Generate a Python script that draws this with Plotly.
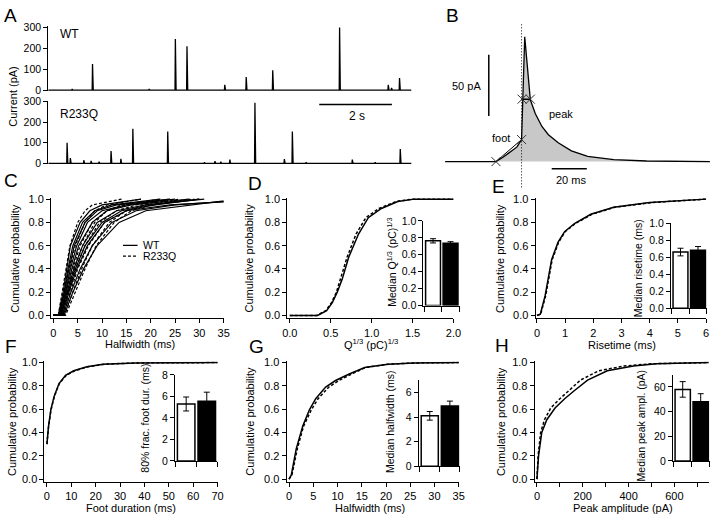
import plotly.graph_objects as go

W, H = 720, 520
FONT = "Liberation Sans, Arial, Helvetica, sans-serif"

# ---------------- data ----------------
# Panel A: amperometric spikes (time in s, amplitude in pA)
wt_spike_t = [0.66, 1.22, 2.78, 3.50, 3.82, 4.86, 5.45, 6.18, 8.02, 9.36, 9.45, 9.67]
wt_spike_a = [5, 125, 5, 245, 210, 25, 62, 95, 300, 25, 10, 58]
ko_spike_t = [0.52, 0.61, 0.98, 1.18, 1.40, 1.73, 2.00, 2.33, 3.29, 4.30, 4.59, 4.75,
              5.00, 5.69, 6.50, 6.72, 7.10, 8.37, 9.00, 9.69]
ko_spike_a = [100, 25, 15, 12, 8, 60, 22, 168, 155, 5, 10, 8, 18, 295, 20, 155, 5, 18, 5, 70]
a_yticks = [0, 100, 200, 300]

# Panel B: single event (time in ms, amplitude in pA)
event_t = [-29, 0, 4, 8, 12, 14.6, 16.4, 19.6, 22.4, 26.2, 29.9, 35.5, 43, 52.3, 67.2, 85.9, 122]
event_amp = [0, 0, 3.5, 7.5, 12, 18, 102, 50.5, 39.3, 28.7, 22, 15.4, 8.8, 4.2, 1.6, 0.5, 0]
foot_t = [0, 14.6]
foot_amp = [0, 18]
half_t = [14.9, 19.6]
half_amp = [51, 51]

# Panel C: per-cell halfwidth cumulative distributions (ms at probability levels)
c_prob = [0, 0, 0.2, 0.4, 0.6, 0.8, 0.9, 0.95, 1.0]
c_wt_curves = [
    [0, 1.0, 2.0, 2.8, 3.5, 5.5, 7.5, 10, 18],
    [0, 1.2, 2.3, 3.2, 4.3, 6.5, 9, 13, 24],
    [0, 1.5, 2.6, 3.8, 5.2, 8.0, 11, 16, 28],
    [0, 1.4, 2.8, 4.2, 6.0, 9.0, 13, 19, 31],
    [0, 1.8, 3.2, 4.8, 7.0, 10.5, 15, 24, 45],
    [0, 1.6, 3.0, 4.5, 6.5, 10.0, 14, 21, 30],
    [0, 2.0, 3.6, 5.5, 8.0, 12.0, 17, 25, 42],
    [0, 1.3, 2.5, 3.5, 4.8, 7.0, 10, 15, 25],
    [0, 1.1, 2.2, 3.0, 4.0, 6.0, 8.5, 12, 22],
    [0, 2.2, 4.0, 6.2, 9.0, 13.5, 19, 28, 38],
]
c_ko_curves = [
    [0, 1.0, 1.8, 2.6, 3.4, 5.0, 6.5, 8, 14],
    [0, 1.5, 2.8, 4.0, 5.5, 8.0, 11, 15, 24],
    [0, 2.5, 4.5, 6.5, 8.8, 12.5, 16, 20, 30],
    [0, 2.3, 4.0, 5.8, 8.0, 11.5, 15, 19, 28],
    [0, 1.8, 3.2, 4.6, 6.5, 9.5, 13, 17, 26],
    [0, 1.6, 3.0, 4.3, 6.0, 8.5, 11, 14, 22],
    [0, 2.0, 3.5, 5.0, 7.2, 10.5, 15, 20, 29],
    [0, 1.2, 2.3, 3.3, 4.5, 6.5, 8.5, 11, 18],
]

# Panel D: Q^(1/3)
d_x_wt = [0, 0.34, 0.45, 0.52, 0.58, 0.64, 0.72, 0.84, 0.96, 1.12, 1.32, 1.52, 2.0]
d_x_ko = [0, 0.33, 0.44, 0.51, 0.57, 0.62, 0.70, 0.81, 0.93, 1.09, 1.30, 1.50, 2.0]
d_prob = [0, 0, 0.04, 0.11, 0.2, 0.31, 0.5, 0.70, 0.84, 0.92, 0.98, 1.0, 1.0]
d_median = [0.765, 0.735]
d_err = [0.025, 0.02]

# Panel E: risetime
e_x_wt = [0, 0.12, 0.29, 0.52, 0.75, 0.98, 1.33, 1.91, 2.72, 4.0, 6.0]
e_x_ko = [0, 0.13, 0.31, 0.54, 0.77, 1.0, 1.36, 1.95, 2.76, 4.05, 6.0]
e_prob = [0, 0.01, 0.17, 0.48, 0.63, 0.72, 0.79, 0.87, 0.93, 0.97, 1.0]
e_median = [0.66, 0.68]
e_err = [0.045, 0.045]

# Panel F: foot duration
f_x_wt = [0, 0.67, 1.6, 2.95, 4.96, 7.64, 11, 16.4, 23, 36.5, 70]
f_x_ko = [0, 0.70, 1.7, 3.05, 5.1, 7.9, 11.4, 16.9, 23.5, 37, 70]
f_prob = [0.30, 0.455, 0.595, 0.71, 0.82, 0.89, 0.93, 0.964, 0.986, 0.997, 1.0]
f_median = [5.3, 5.55]
f_err = [0.65, 0.85]

# Panel G: halfwidth (pooled)
g_x_wt = [0, 0.47, 1.48, 2.83, 4.2, 5.5, 7.55, 9.6, 12.3, 15.6, 20.4, 25.8, 35]
g_x_ko = [0, 0.6, 1.7, 3.0, 4.6, 6.0, 8.2, 10.3, 12.8, 15.8, 20.4, 25.8, 35]
g_prob = [0, 0.036, 0.26, 0.455, 0.595, 0.69, 0.79, 0.846, 0.90, 0.958, 0.986, 0.997, 1.0]
g_median = [4.1, 4.9]
g_err = [0.35, 0.4]

# Panel H: peak amplitude
h_x_wt = [0, 7, 21, 43, 79, 121, 164, 221, 307, 421, 521, 750]
h_x_ko = [0, 5, 16, 33, 60, 100, 140, 190, 270, 380, 500, 750]
h_prob = [0, 0.20, 0.40, 0.51, 0.61, 0.69, 0.76, 0.85, 0.93, 0.97, 0.99, 1.0]
h_median = [58, 48]
h_err = [6.3, 6.5]

groups = ["WT", "R233Q"]
bar_pos = [0.5, 1.5]

# ---------------- figure ----------------
fig = go.Figure()
layout = dict(
    width=W, height=H, margin=dict(l=0, r=0, t=0, b=0),
    paper_bgcolor="white", plot_bgcolor="rgba(0,0,0,0)",
    showlegend=False, font=dict(family=FONT, size=11, color="black"),
)
annotations = []
shapes = []

TICKFONT = dict(size=11, family=FONT, color="black")
base = dict(showline=True, linecolor="black", linewidth=1, ticks="outside", ticklen=4,
            tickwidth=1, tickcolor="black", showgrid=False, zeroline=False,
            tickfont=TICKFONT, fixedrange=True, ticklabeloverflow="allow")


def nm(prefix, n):
    return prefix if n == 1 else f"{prefix}{n}"


def add_axes(n, xl, xr, yt, yb, xrange, yrange, xopts=None, yopts=None):
    xa = dict(base)
    xa.update(domain=[xl / W, xr / W], range=xrange, anchor=nm("y", n))
    if xopts:
        xa.update(xopts)
    ya = dict(base)
    ya.update(domain=[1 - yb / H, 1 - yt / H], range=yrange, anchor=nm("x", n))
    if yopts:
        ya.update(yopts)
    layout[nm("xaxis", n)] = xa
    layout[nm("yaxis", n)] = ya


def text(x, y, s, size=11, angle=0, xanchor="center"):
    annotations.append(dict(x=x / W, y=1 - y / H, xref="paper", yref="paper", text=s,
                            showarrow=False, textangle=angle, xanchor=xanchor, yanchor="middle",
                            font=dict(size=size, family=FONT, color="black")))


def line(n, x, y, dash=None, width=1.5):
    fig.add_trace(go.Scatter(x=x, y=y, mode="lines", xaxis=nm("x", n), yaxis=nm("y", n),
                             line=dict(color="black", width=width, dash=dash),
                             hoverinfo="skip"))


DASH = "3px,2px"


def spike_trace(ts, amps, t_end=10.0):
    xs, ys = [0.0], [0.0]
    for t, a in zip(ts, amps):
        xs += [t - 0.01, t, t + 0.02]
        ys += [0, a, 0]
    xs.append(t_end)
    ys.append(0)
    return xs, ys


# ----- Panel A -----
a_y = dict(tickvals=a_yticks, tickfont=dict(size=10.5, family=FONT, color="black"))
add_axes(1, 44, 414, 20.9, 87.1, [0, 10], [-5, 305], dict(visible=False), a_y)
add_axes(2, 44, 414, 96.95, 162.05, [0, 10], [-5, 305], dict(visible=False), a_y)
x, y = spike_trace(wt_spike_t, wt_spike_a)
line(1, x, y, width=1.3)
x, y = spike_trace(ko_spike_t, ko_spike_a)
line(2, x, y, width=1.3)
shapes.append(dict(type="line", xref="x2", yref="y2", x0=7.46, x1=9.46, y0=286, y1=286,
                   line=dict(color="black", width=1.5)))
text(6, 10, "A", 19)
text(54, 29, "WT", 12, xanchor="left")
text(54, 111, "R233Q", 12, xanchor="left")
text(358, 113, "2 s", 12)
text(8, 92, "Current (pA)", 11, -90)

# ----- Panel B -----
add_axes(3, 440, 720, 15, 190, [-33.6, 123.2], [-24.5, 115.1],
         dict(visible=False), dict(visible=False))
fig.add_trace(go.Scatter(x=event_t[1:], y=event_amp[1:], mode="lines", xaxis="x3", yaxis="y3",
                         fill="tozeroy", fillcolor="#c8c8c8", line=dict(width=0),
                         hoverinfo="skip"))
line(3, event_t, event_amp, width=1.3)
line(3, foot_t, foot_amp, width=1)
line(3, half_t, half_amp, width=1.5)
fig.add_trace(go.Scatter(x=foot_t + half_t, y=foot_amp + half_amp, mode="markers",
                         xaxis="x3", yaxis="y3",
                         marker=dict(symbol="x-thin", size=9, line=dict(width=1, color="#333")),
                         hoverinfo="skip"))
shapes.append(dict(type="line", xref="x3", yref="y3", x0=foot_t[1], x1=foot_t[1], y0=-21, y1=113,
                   line=dict(color="black", width=1, dash="1px,2px")))
shapes.append(dict(type="line", xref="x3", yref="y3", x0=-4.1, x1=-4.1, y0=37.2, y1=87.2,
                   line=dict(color="black", width=1.5)))
shapes.append(dict(type="line", xref="x3", yref="y3", x0=31.8, x1=51.8, y0=-5.9, y1=-5.9,
                   line=dict(color="black", width=1.5)))
text(456, 10, "B", 19)
text(487, 82, "50 pA", 11, xanchor="right")
text(576, 178, "20 ms", 11)
text(566, 111, "peak", 11)
text(505, 135, "foot", 11)

# ----- main cumulative panels -----
prob_y = dict(tickvals=[0, 0.2, 0.4, 0.6, 0.8, 1.0], tickformat=".1f")
TOP1, BOT1 = 196.5, 319.7
TOP2, BOT2 = 363.8, 487.3

# C
add_axes(4, 46.8, 222.7, TOP1, BOT1, [-0.5, 35], [-0.025, 1.01],
         dict(tickvals=list(range(0, 36, 5))), prob_y)
for cx in c_wt_curves:
    line(4, cx, c_prob, width=1.2)
for cx in c_ko_curves:
    line(4, cx, c_prob, dash=DASH, width=1.2)
shapes.append(dict(type="line", xref="x4", yref="y4", x0=14.3, x1=17.3, y0=0.6025, y1=0.6025,
                   line=dict(color="black", width=1.3)))
shapes.append(dict(type="line", xref="x4", yref="y4", x0=14.3, x1=17.3, y0=0.51, y1=0.51,
                   line=dict(color="black", width=1.3, dash=DASH)))
text(138, 244.5, groups[0], 10.5, xanchor="left")
text(138, 256, groups[1], 10.5, xanchor="left")
text(6, 179, "C", 19)
text(10, 258, "Cumulative probability", 11, -90)
text(137, 346, "Halfwidth (ms)", 11)

# D
add_axes(5, 287.5, 456.7, TOP1, BOT1, [-0.03, 2.0], [-0.025, 1.01],
         dict(tickvals=[0, 0.5, 1.0, 1.5, 2.0], tickformat=".1f"), prob_y)
line(5, d_x_wt, d_prob)
line(5, d_x_ko, d_prob, dash=DASH)
text(255, 182, "D", 19)
text(249, 258, "Cumulative probability", 11, -90)
text(373, 346, "Q<sup>1/3</sup> (pC)<sup>1/3</sup>", 11)

# E
add_axes(7, 540.3, 714.3, TOP1, BOT1, [-0.05, 6.01], [-0.025, 1.01],
         dict(tickvals=list(range(0, 7))), prob_y)
line(7, e_x_wt, e_prob)
line(7, e_x_ko, e_prob, dash=DASH)
text(503, 185, "E", 19)
text(504, 258, "Cumulative probability", 11, -90)
text(628, 347, "Risetime (ms)", 11)

# F
add_axes(9, 40.2, 216.7, TOP2, BOT2, [-1, 70.1], [-0.025, 1.01],
         dict(tickvals=list(range(0, 71, 10))), prob_y)
line(9, f_x_wt, f_prob)
line(9, f_x_ko, f_prob, dash=DASH)
text(6, 349, "F", 19)
text(7, 425, "Cumulative probability", 11, -90)
text(128, 514, "Foot duration (ms)", 11)

# G
add_axes(11, 286.8, 462.3, TOP2, BOT2, [-0.5, 35.05], [-0.025, 1.01],
         dict(tickvals=list(range(0, 36, 5))), prob_y)
line(11, g_x_wt, g_prob)
line(11, g_x_ko, g_prob, dash=DASH)
text(256, 349, "G", 19)
text(250, 425, "Cumulative probability", 11, -90)
text(372, 514, "Halfwidth (ms)", 11)

# H
add_axes(13, 539.4, 716.7, TOP2, BOT2, [-10, 750], [-0.025, 1.01],
         dict(tickvals=list(range(0, 701, 100)),
              ticktext=["0", "", "200", "", "400", "", "600", ""]), prob_y)
line(13, h_x_wt, h_prob)
line(13, h_x_ko, h_prob, dash=DASH)
text(506, 348, "H", 19)
text(505, 425, "Cumulative probability", 11, -90)
text(629, 514, "Peak amplitude (pA)", 11)

# ----- insets -----
inset_x = dict(tickvals=[0, 1, 2], showticklabels=False, ticklen=5)


def inset(n, xl, xr, yt, yb, yrange, ticks, fmt, vals, errs):
    add_axes(n, xl, xr, yt, yb, [-0.05, 2.02], yrange, inset_x,
             dict(tickvals=ticks, tickformat=fmt,
                  tickfont=dict(size=10.5, family=FONT, color="black")))
    fig.add_trace(go.Bar(x=bar_pos, y=vals, width=0.85, xaxis=nm("x", n), yaxis=nm("y", n),
                         marker=dict(color=["white", "black"], line=dict(color="black", width=1.5)),
                         error_y=dict(type="data", array=errs, color="black", thickness=1, width=3),
                         hoverinfo="skip"))


inset(6, 426.1, 463.0, 220, 306.7, [0, 1.0], [0, 0.2, 0.4, 0.6, 0.8, 1.0], ".1f", d_median, d_err)
text(394, 262, "Median Q<sup>1/3</sup> (pC)<sup>1/3</sup>", 10.5, -90)
inset(8, 678.1, 715.0, 222.3, 309.3, [0, 1.0], [0, 0.2, 0.4, 0.6, 0.8, 1.0], ".1f", e_median, e_err)
text(644, 268, "Median risetime (ms)", 10.5, -90)
inset(10, 172.95, 216.4, 377.7, 465.7, [0, 8], [0, 2, 4, 6, 8], "d", f_median, f_err)
text(143, 422, "80% frac. foot dur. (ms)", 10.5, -90)
inset(12, 421.3, 463.7, 383.1, 471, [0, 7], [0, 2, 4, 6], "d", g_median, g_err)
text(392, 425, "Median halfwidth (ms)", 10.5, -90)
inset(14, 680.1, 718.0, 377.3, 465.7, [0, 70], [0, 20, 40, 60], "d", h_median, h_err)
text(648, 430, "Median peak ampl. (pA)", 10.5, -90)

layout["annotations"] = annotations
layout["shapes"] = shapes
fig.update_layout(**layout)
fig.write_html("out.html", config={"displayModeBar": False},
               post_script="document.body.style.margin='0';document.body.style.overflow='hidden';")
